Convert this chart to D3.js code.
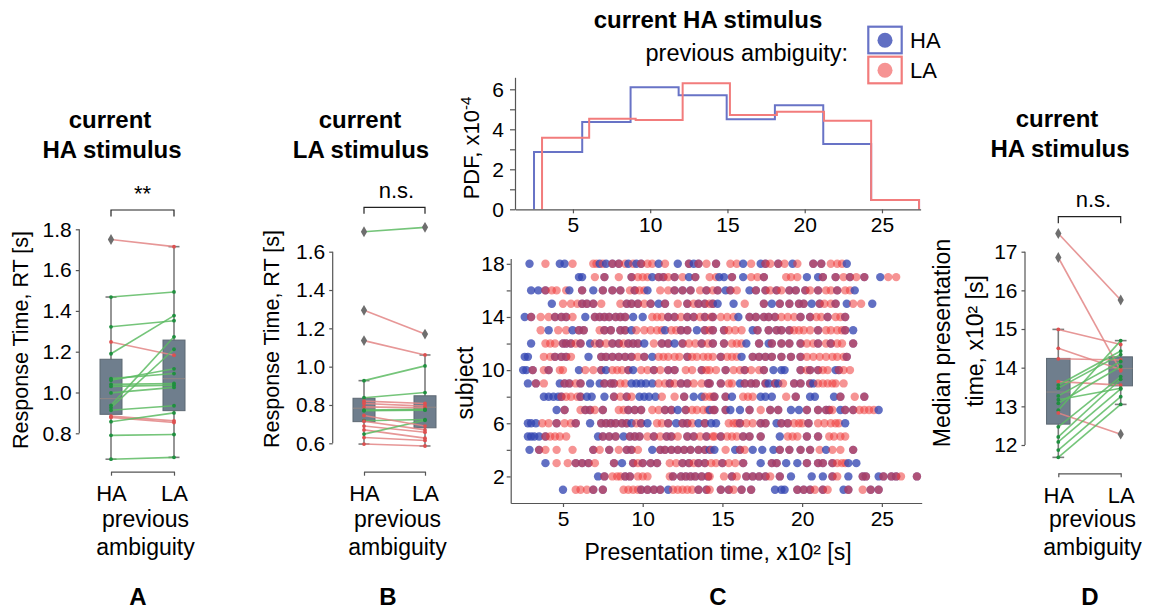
<!DOCTYPE html>
<html>
<head>
<meta charset="utf-8">
<script src="https://cdn.jsdelivr.net/npm/d3@7"></script>
<style>
  body { margin: 0; background: #fff; }
  svg { font-family: "Liberation Sans", Arial, sans-serif; }
</style>
</head>
<body>
<svg id="fig" width="1159" height="610"></svg>
<script>
// ---------- data ----------
const prevLevels = ["HA", "LA"];

// panel A : current HA stimulus, response time per subject
const rtA_HA = [1.75, 1.468, 1.322, 1.248, 1.19, 1.068, 1.06, 1.04, 1.03, 0.998, 0.937, 0.926, 0.913, 0.884, 0.878, 0.857, 0.79, 0.673];
const rtA_LA = [1.715, 1.493, 1.352, 1.183, 1.377, 1.093, 1.116, 1.044, 1.036, 1.025, 1.273, 1.212, 0.935, 0.861, 0.853, 0.9, 0.794, 0.682];
const boxA_HA = [0.673, 0.893, 0.97, 1.163, 1.468];   // lo, q1, median, q3, hi
const boxA_LA = [0.682, 0.911, 1.068, 1.257, 1.715];
const fliersA_HA = [1.75];
const fliersA_LA = [];

// panel B : current LA stimulus
const rtB_HA = [1.704, 1.294, 1.136, 0.927, 0.838, 0.82, 0.808, 0.79, 0.773, 0.77, 0.718, 0.715, 0.69, 0.67, 0.648, 0.63, 0.596, 0.745];
const rtB_LA = [1.727, 1.17, 1.061, 1.004, 0.865, 0.808, 0.794, 0.785, 0.777, 0.773, 0.724, 0.67, 0.658, 0.627, 0.72, 0.615, 0.586, 0.69];
const boxB_HA = [0.596, 0.713, 0.783, 0.835, 0.927];
const boxB_LA = [0.586, 0.681, 0.788, 0.848, 1.061];
const fliersB_HA = [1.704, 1.294, 1.136];
const fliersB_LA = [1.727, 1.17];

// panel D : median presentation time (x10^2 s)
const medD_HA = [17.47, 16.85, 14.99, 14.5, 14.23, 13.64, 13.55, 13.47, 13.27, 13.17, 13.08, 12.9, 12.83, 12.47, 12.21, 12.08, 11.87, 11.68];
const medD_LA = [15.75, 13.92, 14.6, 13.95, 14.2, 13.55, 14.43, 14.34, 14.16, 13.47, 14.03, 14.7, 12.28, 13.77, 13.7, 13.45, 13.25, 13.05];
const boxD_HA = [11.68, 12.54, 13.37, 14.24, 14.99];
const boxD_LA = [13.05, 13.53, 13.98, 14.28, 14.7];
const fliersD_HA = [17.47, 16.85];
const fliersD_LA = [15.75, 12.28];

// panel C : histograms (PDF x10^-4)
const binsHA = [2.48, 5.6, 8.73, 11.84, 14.95, 18.07, 21.2, 24.3, 27.4];
const pdfHA = [2.87, 4.37, 6.1, 5.7, 4.5, 5.2, 3.27, 0.47];
const binsLA = [3.0, 6.05, 9.06, 12.1, 15.16, 18.2, 21.25, 24.3, 27.4];
const pdfLA = [3.58, 4.53, 4.47, 6.3, 4.72, 4.88, 4.43, 0.47];

// panel C : presentation times per subject (x10^2 s), index 0 = subject 1
const subjectIds = [1, 2, 3, 4, 5, 6, 7, 8, 9, 10, 11, 12, 13, 14, 15, 16, 17, 18];
const presHA = [
  [5.0, 6.9, 7.5, 9.9, 10.3, 10.7, 11.1, 11.6, 13.5, 14.0, 14.9, 15.4, 16.2, 16.8, 18.3, 18.7, 18.9, 19.7, 20.1, 20.5, 21.3, 22.6, 22.9, 24.3, 24.8],
  [7.2, 7.6, 8.9, 9.2, 11.9, 12.4, 12.7, 13.0, 13.3, 13.7, 14.1, 15.6, 16.5, 16.9, 17.3, 17.7, 18.6, 19.3, 20.6, 21.3, 21.9, 22.9, 23.8, 24.0, 24.8, 25.1, 25.6, 25.9, 27.2],
  [3.9, 5.8, 6.2, 6.6, 8.2, 8.7, 9.4, 10.0, 10.5, 10.9, 12.5, 12.9, 13.5, 13.9, 15.0, 16.3, 17.4, 18.1, 18.4, 19.0, 19.7, 20.3, 21.0, 21.3, 21.9, 22.9, 23.4],
  [2.9, 3.5, 6.9, 7.9, 9.0, 9.3, 10.6, 11.1, 11.4, 11.8, 12.2, 12.6, 13.0, 13.5, 13.9, 14.2, 14.5, 15.8, 16.1, 16.9, 17.5, 18.2, 18.6, 19.2, 19.9, 20.5, 21.5, 23.2],
  [2.8, 3.0, 3.2, 3.5, 3.9, 7.2, 7.5, 7.9, 8.3, 8.8, 9.2, 9.5, 9.8, 10.7, 11.5, 11.8, 12.8, 13.2, 14.0, 14.9, 16.3, 16.7, 17.4, 18.6, 20.3, 21.0],
  [2.8, 3.0, 3.3, 4.6, 5.8, 6.7, 7.4, 7.7, 8.0, 8.3, 8.7, 9.0, 9.3, 9.9, 10.3, 11.6, 12.1, 12.5, 12.8, 13.5, 13.9, 14.3, 14.6, 16.1, 17.4, 17.7, 18.4, 18.7, 19.1, 20.4, 22.7],
  [4.6, 5.1, 6.4, 6.7, 7.5, 9.1, 9.5, 9.9, 11.4, 11.8, 12.2, 12.7, 14.2, 14.5, 15.2, 15.5, 16.1, 16.7, 18.0, 18.5, 19.3, 19.8, 20.3, 21.0, 21.5, 21.7, 22.4, 22.7, 23.2, 24.8],
  [3.8, 4.1, 4.4, 4.7, 4.9, 6.1, 6.5, 6.8, 7.6, 8.2, 9.0, 9.8, 10.1, 10.4, 10.8, 12.6, 13.2, 13.7, 14.5, 15.2, 15.6, 17.4, 17.7, 18.1, 19.6, 20.5, 20.8, 22.0, 22.4, 23.9],
  [2.8, 3.3, 4.8, 5.1, 5.4, 6.1, 6.7, 7.3, 7.6, 8.0, 8.2, 9.3, 9.6, 9.9, 10.2, 10.6, 11.7, 12.4, 12.8, 14.1, 14.2, 14.9, 16.1, 16.4, 16.8, 17.1, 17.7, 17.9, 18.3, 18.5, 19.5, 19.9, 20.5, 20.7],
  [2.5, 2.7, 3.1, 4.1, 6.0, 7.4, 7.7, 9.1, 9.4, 10.7, 11.6, 12.0, 13.7, 15.2, 16.4, 17.6, 18.2, 18.7, 18.9, 19.9, 20.5, 21.0, 22.1, 22.3],
  [2.6, 2.8, 4.5, 4.9, 5.2, 6.6, 7.4, 7.7, 8.1, 8.5, 8.9, 9.3, 10.1, 10.6, 12.8, 14.9, 16.2, 16.9, 17.3, 17.7, 18.1, 18.7, 19.3, 19.9, 22.8],
  [3.0, 5.0, 5.2, 5.5, 6.1, 6.7, 7.3, 8.1, 8.5, 9.1, 9.4, 9.7, 10.1, 11.2, 11.6, 12.0, 12.5, 13.7, 14.4, 15.1, 16.5, 17.3, 17.9, 18.1, 18.7, 19.2, 19.9, 21.0, 21.8, 23.2],
  [4.1, 5.6, 6.0, 6.3, 7.6, 8.0, 8.6, 8.9, 9.3, 11.4, 12.4, 12.8, 13.4, 13.9, 14.4, 15.1, 16.9, 17.2, 17.9, 18.4, 18.7, 19.2, 21.0, 22.7, 23.2],
  [2.6, 3.0, 4.5, 4.9, 5.2, 6.4, 7.0, 7.3, 7.6, 7.9, 8.3, 8.6, 8.9, 9.4, 10.0, 11.6, 12.0, 12.8, 13.2, 13.9, 14.4, 16.0, 16.7, 17.1, 17.6, 17.9, 18.3, 19.9, 20.5, 21.6, 22.7],
  [4.3, 6.2, 6.5, 6.9, 9.0, 9.3, 9.7, 10.5, 11.0, 11.4, 12.8, 13.5, 13.9, 14.4, 14.7, 15.7, 17.6, 18.1, 18.6, 19.2, 19.8, 20.1, 20.6, 21.1, 22.1, 22.8, 24.4],
  [3.0, 3.45, 3.9, 5.4, 6.2, 6.9, 7.5, 8.1, 8.6, 9.5, 10.3, 12.0, 12.5, 13.0, 14.0, 14.7, 15.2, 15.5, 16.7, 17.1, 17.7, 18.4, 19.2, 19.6, 20.2, 21.0, 22.2, 23.3],
  [6.0, 6.2, 7.6, 9.3, 10.6, 11.0, 11.3, 12.0, 12.9, 13.3, 14.8, 15.1, 15.6, 16.3, 17.6, 20.3, 21.0, 21.3, 22.1, 23.0, 23.9, 24.9],
  [2.9, 4.8, 5.1, 7.3, 7.7, 8.1, 8.5, 9.1, 9.6, 9.9, 11.0, 12.2, 12.9, 13.2, 13.5, 14.6, 16.3, 17.4, 17.7, 18.5, 19.4, 20.7, 21.2, 22.8]
];
const presLA = [
  [5.8, 6.1, 6.5, 6.9, 7.5, 8.8, 9.1, 9.4, 9.7, 9.9, 10.3, 10.7, 11.1, 11.9, 12.2, 12.5, 12.8, 13.1, 13.5, 14.0, 14.2, 14.9, 15.4, 15.7, 16.2, 16.8, 19.7, 20.1, 20.5, 20.8, 21.3, 21.6, 22.9, 23.8, 24.3, 24.8],
  [7.6, 8.1, 8.4, 8.6, 8.9, 9.2, 9.7, 10.0, 10.3, 11.7, 11.9, 12.4, 12.7, 13.0, 13.3, 13.7, 14.1, 14.2, 15.1, 15.6, 15.9, 16.5, 16.9, 17.3, 17.7, 18.0, 18.6, 21.9, 22.2, 23.8, 24.0, 25.1, 25.6, 25.9, 26.2, 27.2],
  [4.6, 5.3, 5.8, 6.2, 6.6, 7.0, 8.2, 9.4, 9.7, 10.0, 10.5, 10.9, 11.7, 12.1, 12.5, 12.9, 13.2, 13.5, 13.9, 14.3, 14.6, 15.0, 15.4, 15.8, 16.3, 18.1, 18.4, 20.3, 21.0, 21.3, 21.9, 22.2, 22.5, 22.7],
  [3.5, 3.9, 4.6, 5.6, 6.9, 7.3, 7.9, 8.5, 9.0, 9.3, 9.7, 11.1, 11.4, 11.8, 12.2, 12.6, 13.0, 13.5, 13.9, 14.3, 15.2, 16.1, 16.4, 18.6, 19.2, 19.9, 20.5, 21.1, 21.9, 22.4, 23.2],
  [3.9, 4.2, 4.5, 4.8, 5.2, 7.5, 7.9, 8.3, 9.2, 9.5, 9.8, 10.3, 10.7, 11.1, 11.5, 11.8, 12.2, 12.8, 13.2, 13.6, 14.0, 14.4, 14.5, 14.9, 15.3, 15.6, 15.9, 16.3, 16.7, 17.4, 19.1, 19.4, 19.7, 20.3, 21.0, 21.7, 22.0, 22.4, 22.7],
  [3.7, 4.1, 4.6, 5.1, 5.5, 5.8, 7.4, 7.7, 8.0, 8.3, 8.7, 9.0, 9.6, 9.9, 10.9, 11.2, 11.6, 12.5, 12.8, 13.1, 13.9, 15.4, 15.7, 15.9, 16.1, 16.5, 16.9, 17.4, 17.7, 18.7, 19.1, 19.5, 19.8, 20.0, 20.4, 21.0, 21.4, 21.8, 22.1, 22.3],
  [5.1, 6.1, 6.4, 6.7, 7.0, 7.5, 8.5, 8.8, 9.1, 9.5, 9.9, 10.6, 11.0, 11.4, 11.8, 12.7, 13.1, 13.4, 13.8, 14.1, 14.4, 14.5, 15.2, 16.7, 17.4, 18.0, 18.5, 20.3, 21.0, 21.5, 21.7, 21.9, 22.7, 23.2, 23.6, 23.9, 24.2, 24.5],
  [4.9, 5.2, 5.5, 5.9, 6.1, 8.2, 8.6, 9.0, 9.3, 11.2, 12.0, 12.6, 13.9, 14.2, 14.4, 14.5, 15.2, 16.3, 16.6, 16.9, 19.0, 19.6, 22.4, 23.3, 23.9],
  [3.3, 3.8, 5.1, 5.4, 5.8, 6.1, 7.6, 8.0, 8.2, 8.6, 8.9, 11.0, 11.4, 11.7, 12.0, 12.4, 12.8, 13.2, 13.7, 14.1, 14.2, 14.9, 15.4, 15.6, 16.4, 16.8, 17.1, 17.7, 18.3, 18.8, 19.5, 19.9, 20.5, 21.0, 21.3, 21.6, 21.9, 22.1, 22.6],
  [3.1, 3.8, 4.1, 4.8, 5.0, 6.4, 6.9, 7.4, 8.1, 8.4, 8.7, 9.1, 9.9, 10.3, 10.7, 11.1, 11.6, 12.0, 12.7, 13.1, 13.7, 14.0, 14.2, 14.6, 15.2, 15.7, 16.1, 16.4, 16.8, 17.3, 17.6, 19.9, 20.3, 20.5, 21.0, 21.3, 21.6, 22.3, 22.6, 23.0],
  [3.8, 4.2, 4.5, 4.9, 5.2, 5.5, 7.4, 7.7, 8.1, 8.5, 8.9, 9.3, 9.7, 10.1, 11.0, 11.3, 11.6, 12.0, 12.3, 12.8, 13.1, 13.4, 13.8, 14.1, 14.4, 14.9, 15.3, 15.6, 15.9, 16.9, 17.3, 17.7, 18.1, 18.7, 19.3, 19.9, 20.3, 20.7, 21.1, 21.5, 21.9, 22.2, 22.6, 22.8],
  [3.9, 4.2, 4.5, 5.0, 5.2, 5.5, 5.8, 6.1, 7.0, 7.3, 7.7, 8.1, 8.5, 8.8, 9.1, 9.4, 9.7, 10.7, 11.2, 11.6, 12.5, 12.9, 13.3, 13.7, 14.1, 14.4, 15.1, 15.6, 15.9, 16.2, 17.3, 18.1, 18.7, 19.2, 19.9, 20.3, 20.7, 21.0, 21.5, 21.8, 22.2, 22.5, 23.2],
  [3.6, 4.7, 5.2, 6.0, 6.3, 7.3, 7.6, 8.0, 8.6, 8.9, 9.6, 10.1, 10.5, 10.9, 11.2, 11.8, 12.1, 12.4, 12.8, 13.9, 14.2, 14.4, 15.1, 15.4, 15.8, 16.2, 17.2, 17.9, 18.4, 18.7, 19.2, 19.5, 19.8, 20.1, 20.5, 21.0, 21.5, 21.8, 22.2, 22.5, 22.7],
  [3.0, 3.6, 4.1, 4.5, 4.9, 5.2, 5.6, 7.0, 7.3, 7.6, 7.9, 8.3, 8.6, 8.9, 10.6, 10.9, 11.2, 11.6, 12.0, 12.4, 12.8, 13.2, 13.6, 13.9, 14.3, 14.4, 14.9, 15.3, 15.7, 16.7, 17.1, 17.6, 17.9, 18.3, 18.7, 19.1, 19.5, 19.9, 20.5, 20.9, 21.2, 21.6, 22.1, 22.4, 22.7],
  [5.0, 5.5, 5.9, 6.2, 6.5, 6.9, 7.4, 8.6, 9.0, 9.3, 9.7, 10.1, 10.5, 11.4, 12.2, 12.8, 13.2, 13.5, 13.9, 14.2, 14.4, 16.4, 17.6, 18.6, 19.2, 19.8, 20.1, 21.1, 21.4, 21.8, 22.1, 23.2, 23.7],
  [3.9, 4.3, 4.6, 5.2, 6.2, 7.5, 8.1, 8.6, 9.2, 9.5, 9.8, 10.1, 11.1, 11.6, 12.0, 12.5, 13.0, 13.6, 14.0, 14.4, 14.7, 15.5, 15.9, 17.1, 17.7, 18.0, 18.4, 18.7, 19.2, 19.6, 20.2, 20.5, 21.0, 21.5, 21.8, 22.2, 22.7, 23.0],
  [7.0, 7.6, 8.5, 9.3, 9.7, 10.0, 10.3, 11.0, 11.3, 11.6, 12.0, 12.5, 13.3, 14.2, 14.6, 15.6, 16.8, 17.2, 17.6, 19.0, 19.3, 19.7, 21.3, 22.1, 22.6, 23.0, 23.4, 23.9, 25.4, 25.9],
  [3.9, 5.6, 6.9, 7.1, 7.5, 8.1, 8.5, 8.9, 9.4, 9.9, 10.3, 10.6, 11.4, 12.9, 13.5, 14.0, 14.6, 15.5, 15.9, 16.8, 17.7, 18.0, 18.5, 18.9, 19.7, 20.7, 21.2, 21.8, 22.2, 22.5]
];

// ---------- style ----------
const BLUE = "#3447b2", RED = "#ee3a3a";
const BLUE_OP = 0.78, RED_OP = 0.55;
const LINE_BLUE = "#6873c6", LINE_RED = "#f27c7c";
const GREEN_LINE = "#5dbb63", RED_LINE = "#e38585";
const GREEN_DOT = "#1f8f3f", RED_DOT = "#dd5050";
const BOX_FILL = "#6f7e8d", AXIS = "#555";

const svg = d3.select("#fig");

function label(txt, x, y, size, opts = {}) {
  const t = svg.append("text")
    .attr("x", x).attr("y", y)
    .attr("font-size", size)
    .attr("text-anchor", opts.anchor || "middle")
    .attr("font-weight", opts.bold ? "bold" : null)
    .attr("fill", "#000")
    .text(txt);
  if (opts.rotate) t.attr("transform", `rotate(-90,${x},${y})`);
  return t;
}

function styleAxis(g, size) {
  g.attr("font-size", size).attr("font-family", null).attr("color", AXIS);
  g.selectAll("text").attr("fill", "#000");
  g.selectAll("line, path").attr("stroke-width", 1.2);
}

// ---------- paired box panels ----------
function pairPanel(o) {
  const x = d3.scalePoint().domain(prevLevels).range(o.xr);
  const y = d3.scaleLinear().domain(o.yd).range(o.yr);
  const g = svg.append("g");
  const bw = o.bw;

  [o.boxHA, o.boxLA].forEach((b, i) => {
    const cx = x(prevLevels[i]);
    const [lo, q1, med, q3, hi] = b;
    g.append("line").attr("x1", cx).attr("x2", cx).attr("y1", y(lo)).attr("y2", y(hi))
      .attr("stroke", "#7c7c7c").attr("stroke-width", 1.6);
    [lo, hi].forEach(v => g.append("line")
      .attr("x1", cx - bw / 4).attr("x2", cx + bw / 4).attr("y1", y(v)).attr("y2", y(v))
      .attr("stroke", "#7c7c7c").attr("stroke-width", 1.6));
    g.append("rect").attr("x", cx - bw / 2).attr("width", bw)
      .attr("y", y(q3)).attr("height", y(q1) - y(q3))
      .attr("fill", BOX_FILL).attr("stroke", "#5d6873").attr("stroke-width", 1);
    g.append("line").attr("x1", cx - bw / 2).attr("x2", cx + bw / 2).attr("y1", y(med)).attr("y2", y(med))
      .attr("stroke", "#8d8585").attr("stroke-width", 1.2);
  });

  o.ha.forEach((v, i) => {
    const w = o.la[i];
    g.append("line")
      .attr("x1", x("HA")).attr("y1", y(v)).attr("x2", x("LA")).attr("y2", y(w))
      .attr("stroke", w > v ? GREEN_LINE : RED_LINE)
      .attr("stroke-width", 1.6).attr("opacity", 0.85);
  });
  o.ha.forEach((v, i) => {
    const w = o.la[i];
    const c = w > v ? GREEN_DOT : RED_DOT;
    g.append("circle").attr("cx", x("HA")).attr("cy", y(v)).attr("r", 1.9).attr("fill", c);
    g.append("circle").attr("cx", x("LA")).attr("cy", y(w)).attr("r", 1.9).attr("fill", c);
  });

  const diamond = d3.symbol().type(d3.symbolDiamond).size(34);
  [[o.fliersHA, "HA"], [o.fliersLA, "LA"]].forEach(([arr, k]) => {
    arr.forEach(v => g.append("path").attr("d", diamond)
      .attr("transform", `translate(${x(k)},${y(v)})`).attr("fill", "#6e6e6e"));
  });

  // y axis, spine trimmed to the ticks
  const ga = g.append("g").attr("transform", `translate(${o.spineX},0)`)
    .call(d3.axisLeft(y).tickValues(o.ticks).tickSize(3.5).tickPadding(4).tickFormat(o.fmt));
  ga.select(".domain").remove();
  ga.append("line").attr("y1", y(o.ticks[0])).attr("y2", y(o.ticks[o.ticks.length - 1]))
    .attr("stroke", "currentColor");
  styleAxis(ga, 21);

  // x axis (bracket-like spine)
  const gx = g.append("g").attr("transform", `translate(0,${o.axisY})`)
    .call(d3.axisBottom(x).tickSize(4).tickSizeOuter(0).tickPadding(10));
  styleAxis(gx, 22);

  // significance bracket
  const by = o.sigY;
  g.append("path")
    .attr("d", `M${x("HA")},${by + 6.5}V${by}H${x("LA")}V${by + 6.5}`)
    .attr("fill", "none").attr("stroke", "#222").attr("stroke-width", 1.2);
  label(o.sig, (x("HA") + x("LA")) / 2 + o.sigDx, o.sigTextY, 22);

  const cx = (o.xr[0] + o.xr[1]) / 2;
  label("previous", cx + 3, 527, 23);
  label("ambiguity", cx + 3, 555, 23);
  return { x, y };
}

pairPanel({
  ha: rtA_HA, la: rtA_LA, boxHA: boxA_HA, boxLA: boxA_LA, fliersHA: fliersA_HA, fliersLA: fliersA_LA,
  xr: [111, 174], yd: [0.8, 1.8], yr: [433.3, 229.3], spineX: 79.3, axisY: 471.7, bw: 22,
  ticks: [0.8, 1.0, 1.2, 1.4, 1.6, 1.8], fmt: d3.format(".1f"),
  sig: "**", sigY: 210, sigTextY: 201, sigDx: 0
});
pairPanel({
  ha: rtB_HA, la: rtB_LA, boxHA: boxB_HA, boxLA: boxB_LA, fliersHA: fliersB_HA, fliersLA: fliersB_LA,
  xr: [364, 425], yd: [0.6, 1.6], yr: [443.3, 251.7], spineX: 332.7, axisY: 471.7, bw: 22,
  ticks: [0.6, 0.8, 1.0, 1.2, 1.4, 1.6], fmt: d3.format(".1f"),
  sig: "n.s.", sigY: 207.3, sigTextY: 198, sigDx: 2
});
pairPanel({
  ha: medD_HA, la: medD_LA, boxHA: boxD_HA, boxLA: boxD_LA, fliersHA: fliersD_HA, fliersLA: fliersD_LA,
  xr: [1058.3, 1120.7], yd: [12, 17], yr: [445, 251.7], spineX: 1025, axisY: 473.3, bw: 23.5,
  ticks: [12, 13, 14, 15, 16, 17], fmt: d3.format("d"),
  sig: "n.s.", sigY: 216.7, sigTextY: 207, sigDx: 4
});

// titles and y labels for the box panels
label("current", 110, 128, 24, { bold: true });
label("HA stimulus", 112, 158, 24, { bold: true });
label("current", 360, 128, 24, { bold: true });
label("LA stimulus", 361, 158, 24, { bold: true });
label("current", 1057, 127, 24, { bold: true });
label("HA stimulus", 1060, 157, 24, { bold: true });

label("Response Time, RT [s]", 28, 340, 21.5, { rotate: true });
label("Response Time, RT [s]", 279, 339, 21.5, { rotate: true });
label("Median presentation", 950, 343, 23, { rotate: true });
label("time, x10\u00b2 [s]", 983, 341, 23, { rotate: true });

// ---------- panel C: histogram ----------
const hx = d3.scaleLinear().domain([1.25, 27.5]).range([515, 920.6]);
const hy = d3.scaleLinear().domain([0, 6.6]).range([209.3, 77.3]);

function stepPath(edges, vals) {
  const p = d3.path();
  p.moveTo(hx(edges[0]), hy(0));
  vals.forEach((v, i) => { p.lineTo(hx(edges[i]), hy(v)); p.lineTo(hx(edges[i + 1]), hy(v)); });
  p.lineTo(hx(edges[edges.length - 1]), hy(0));
  return p.toString();
}
svg.append("path").attr("d", stepPath(binsHA, pdfHA)).attr("fill", "none")
  .attr("stroke", LINE_BLUE).attr("stroke-width", 2);
svg.append("path").attr("d", stepPath(binsLA, pdfLA)).attr("fill", "none")
  .attr("stroke", LINE_RED).attr("stroke-width", 2);

const hyAxis = svg.append("g").attr("transform", "translate(515,0)")
  .call(d3.axisLeft(hy).tickValues([0, 1, 2, 3, 4, 5, 6]).tickSize(5).tickSizeOuter(0).tickPadding(6)
    .tickFormat(d => d % 2 === 0 ? d : ""));
styleAxis(hyAxis, 21);
const hxAxis = svg.append("g").attr("transform", "translate(0,209.3)")
  .call(d3.axisBottom(hx).tickValues([5, 10, 15, 20, 25]).tickSize(4).tickSizeOuter(0).tickPadding(4));
styleAxis(hxAxis, 21);

const pdfLab = label("PDF, x10", 479, 148, 22, { rotate: true });
pdfLab.append("tspan").attr("dy", -8).attr("font-size", 15).text("-4");

// ---------- panel C: scatter ----------
const sx = d3.scaleLinear().domain([1.72, 27.5]).range([510.7, 921.7]);
const sy = d3.scaleLinear().domain([0, 18.4]).range([503, 258.5]);

const dots = [];
subjectIds.forEach((s, i) => {
  presHA[i].forEach(t => dots.push({ s, t, prev: "HA" }));
  presLA[i].forEach(t => dots.push({ s, t, prev: "LA" }));
});
dots.sort((a, b) => a.s - b.s || a.t - b.t);

svg.append("g").selectAll("circle").data(dots).join("circle")
  .attr("cx", d => sx(d.t)).attr("cy", d => sy(d.s)).attr("r", 4.2)
  .attr("fill", d => d.prev === "HA" ? BLUE : RED)
  .attr("fill-opacity", d => d.prev === "HA" ? BLUE_OP : RED_OP);

const sxAxis = svg.append("g").attr("transform", "translate(0,503)")
  .call(d3.axisBottom(sx).tickValues([5, 10, 15, 20, 25]).tickSize(4).tickSizeOuter(0).tickPadding(4));
styleAxis(sxAxis, 21);
const syAxis = svg.append("g").attr("transform", "translate(510.7,0)")
  .call(d3.axisLeft(sy).tickValues([2, 4, 6, 8, 10, 12, 14, 16, 18]).tickSize(4).tickSizeOuter(0).tickPadding(2)
    .tickFormat(d => (d - 2) % 4 === 0 ? d : ""));
styleAxis(syAxis, 21);

label("subject", 473, 383, 23, { rotate: true });
label("Presentation time, x10\u00b2 [s]", 718, 560, 23);

// title + legend
label("current HA stimulus", 708, 28, 24, { bold: true });
label("previous ambiguity:", 848, 61, 23.5, { anchor: "end" });

const legendItems = [
  { name: "HA", fill: BLUE, op: BLUE_OP, stroke: LINE_BLUE, y: 26.7 },
  { name: "LA", fill: RED, op: RED_OP, stroke: LINE_RED, y: 56.7 }
];
legendItems.forEach(d => {
  svg.append("rect").attr("x", 868.3).attr("y", d.y).attr("width", 33.4).attr("height", 26.6)
    .attr("fill", "none").attr("stroke", d.stroke).attr("stroke-width", 2.2);
  svg.append("circle").attr("cx", 885).attr("cy", d.y + 13.5).attr("r", 7.5)
    .attr("fill", d.fill).attr("fill-opacity", d.op);
  label(d.name, 910, d.y + 21.5, 22, { anchor: "start" });
});

// panel letters
[["A", 138], ["B", 388], ["C", 718], ["D", 1090]].forEach(([t, x]) => label(t, x, 605, 24, { bold: true }));
</script>
</body>
</html>
